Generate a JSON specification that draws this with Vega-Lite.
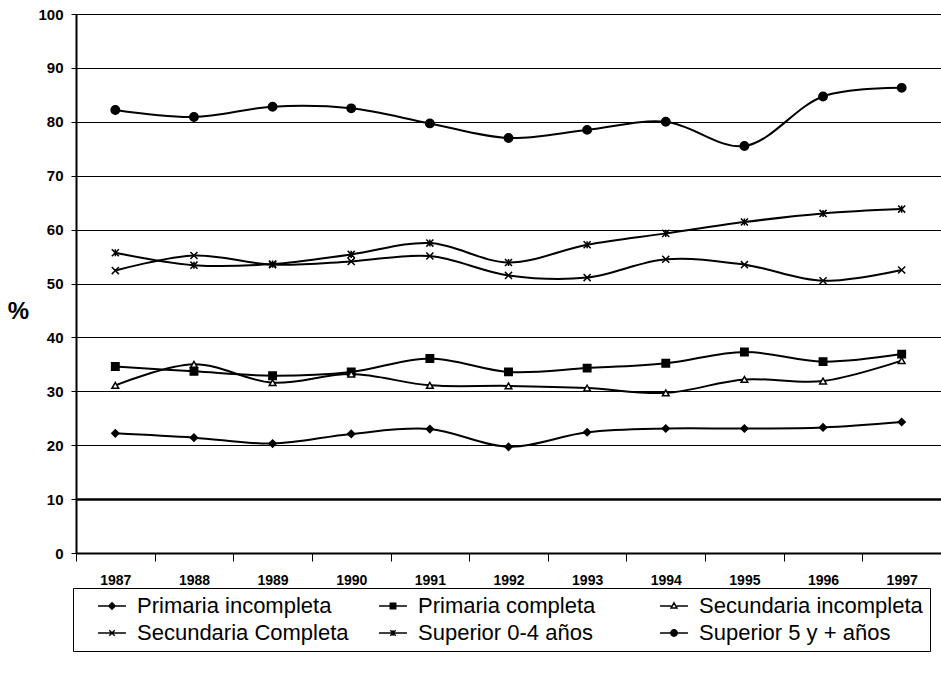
{
  "$schema": "https://vega.github.io/schema/vega-lite/v6.json",
  "autosize": {"type": "none"},
  "width": 865,
  "height": 539,
  "padding": {"left": 76, "top": 14, "right": 0, "bottom": 127},
  "background": "white",
  "config": {
    "view": {"stroke": null},
    "font": "Liberation Sans"
  },
  "data": {
    "values": [
      {"year": "1987", "serie": "Primaria incompleta", "value": 22.2},
      {"year": "1988", "serie": "Primaria incompleta", "value": 21.4},
      {"year": "1989", "serie": "Primaria incompleta", "value": 20.3},
      {"year": "1990", "serie": "Primaria incompleta", "value": 22.1},
      {"year": "1991", "serie": "Primaria incompleta", "value": 23.0},
      {"year": "1992", "serie": "Primaria incompleta", "value": 19.7},
      {"year": "1993", "serie": "Primaria incompleta", "value": 22.4},
      {"year": "1994", "serie": "Primaria incompleta", "value": 23.1},
      {"year": "1995", "serie": "Primaria incompleta", "value": 23.1},
      {"year": "1996", "serie": "Primaria incompleta", "value": 23.3},
      {"year": "1997", "serie": "Primaria incompleta", "value": 24.3},
      {"year": "1987", "serie": "Primaria completa", "value": 34.6},
      {"year": "1988", "serie": "Primaria completa", "value": 33.7},
      {"year": "1989", "serie": "Primaria completa", "value": 32.9},
      {"year": "1990", "serie": "Primaria completa", "value": 33.6},
      {"year": "1991", "serie": "Primaria completa", "value": 36.1},
      {"year": "1992", "serie": "Primaria completa", "value": 33.6},
      {"year": "1993", "serie": "Primaria completa", "value": 34.3},
      {"year": "1994", "serie": "Primaria completa", "value": 35.2},
      {"year": "1995", "serie": "Primaria completa", "value": 37.3},
      {"year": "1996", "serie": "Primaria completa", "value": 35.5},
      {"year": "1997", "serie": "Primaria completa", "value": 36.9},
      {"year": "1987", "serie": "Secundaria incompleta", "value": 31.1},
      {"year": "1988", "serie": "Secundaria incompleta", "value": 35.0},
      {"year": "1989", "serie": "Secundaria incompleta", "value": 31.6},
      {"year": "1990", "serie": "Secundaria incompleta", "value": 33.2},
      {"year": "1991", "serie": "Secundaria incompleta", "value": 31.1},
      {"year": "1992", "serie": "Secundaria incompleta", "value": 31.0},
      {"year": "1993", "serie": "Secundaria incompleta", "value": 30.6},
      {"year": "1994", "serie": "Secundaria incompleta", "value": 29.7},
      {"year": "1995", "serie": "Secundaria incompleta", "value": 32.2},
      {"year": "1996", "serie": "Secundaria incompleta", "value": 31.9},
      {"year": "1997", "serie": "Secundaria incompleta", "value": 35.7},
      {"year": "1987", "serie": "Secundaria Completa", "value": 52.4},
      {"year": "1988", "serie": "Secundaria Completa", "value": 55.2},
      {"year": "1989", "serie": "Secundaria Completa", "value": 53.5},
      {"year": "1990", "serie": "Secundaria Completa", "value": 54.1},
      {"year": "1991", "serie": "Secundaria Completa", "value": 55.1},
      {"year": "1992", "serie": "Secundaria Completa", "value": 51.5},
      {"year": "1993", "serie": "Secundaria Completa", "value": 51.1},
      {"year": "1994", "serie": "Secundaria Completa", "value": 54.5},
      {"year": "1995", "serie": "Secundaria Completa", "value": 53.5},
      {"year": "1996", "serie": "Secundaria Completa", "value": 50.5},
      {"year": "1997", "serie": "Secundaria Completa", "value": 52.5},
      {"year": "1987", "serie": "Superior 0-4 años", "value": 55.7},
      {"year": "1988", "serie": "Superior 0-4 años", "value": 53.4},
      {"year": "1989", "serie": "Superior 0-4 años", "value": 53.6},
      {"year": "1990", "serie": "Superior 0-4 años", "value": 55.4},
      {"year": "1991", "serie": "Superior 0-4 años", "value": 57.5},
      {"year": "1992", "serie": "Superior 0-4 años", "value": 53.9},
      {"year": "1993", "serie": "Superior 0-4 años", "value": 57.2},
      {"year": "1994", "serie": "Superior 0-4 años", "value": 59.3},
      {"year": "1995", "serie": "Superior 0-4 años", "value": 61.4},
      {"year": "1996", "serie": "Superior 0-4 años", "value": 63.0},
      {"year": "1997", "serie": "Superior 0-4 años", "value": 63.8},
      {"year": "1987", "serie": "Superior 5 y + años", "value": 82.2},
      {"year": "1988", "serie": "Superior 5 y + años", "value": 80.9},
      {"year": "1989", "serie": "Superior 5 y + años", "value": 82.8},
      {"year": "1990", "serie": "Superior 5 y + años", "value": 82.5},
      {"year": "1991", "serie": "Superior 5 y + años", "value": 79.7},
      {"year": "1992", "serie": "Superior 5 y + años", "value": 77.0},
      {"year": "1993", "serie": "Superior 5 y + años", "value": 78.5},
      {"year": "1994", "serie": "Superior 5 y + años", "value": 80.0},
      {"year": "1995", "serie": "Superior 5 y + años", "value": 75.5},
      {"year": "1996", "serie": "Superior 5 y + años", "value": 84.7},
      {"year": "1997", "serie": "Superior 5 y + años", "value": 86.3}
    ]
  },
  "encoding": {
    "x": {
      "field": "year",
      "type": "ordinal",
      "scale": {"type": "band", "paddingInner": 0, "paddingOuter": 0},
      "axis": {
        "title": null,
        "labelAngle": 0,
        "labelFont": "Liberation Sans",
        "labelFontSize": 14,
        "labelFontWeight": "bold",
        "labelColor": "black",
        "labelPadding": 12,
        "tickBand": "extent",
        "tickSize": 8,
        "tickColor": "black",
        "tickWidth": 1,
        "domainColor": "black",
        "domainWidth": 2,
        "grid": false
      }
    },
    "y": {
      "field": "value",
      "type": "quantitative",
      "scale": {"domain": [0, 100], "nice": false},
      "axis": {
        "title": "%",
        "titleAngle": 0,
        "titleFont": "Liberation Sans",
        "titleFontSize": 24,
        "titleFontWeight": "bold",
        "titleColor": "black",
        "titleX": -58,
        "titleY": 297,
        "titleAlign": "center",
        "titleBaseline": "middle",
        "values": [0, 10, 20, 30, 40, 50, 60, 70, 80, 90, 100],
        "labelFont": "Liberation Sans",
        "labelFontSize": 15,
        "labelFontWeight": "bold",
        "labelColor": "black",
        "labelPadding": 8,
        "tickSize": 5,
        "tickColor": "black",
        "domainColor": "black",
        "domainWidth": 2,
        "grid": true,
        "gridColor": "black",
        "gridOpacity": 1,
        "gridWidth": {"condition": {"test": "datum.value === 10", "value": 2.5}, "value": 1.2}
      }
    }
  },
  "layer": [
    {
      "mark": {"type": "line", "interpolate": "catmull-rom", "strokeWidth": 2},
      "encoding": {
        "color": {
          "field": "serie",
          "type": "nominal",
          "scale": {
            "domain": ["Primaria incompleta", "Primaria completa", "Secundaria incompleta", "Secundaria Completa", "Superior 0-4 años", "Superior 5 y + años"],
            "range": ["black", "black", "black", "black", "black", "black"]
          },
          "legend": {
            "title": null,
            "orient": "none",
            "legendX": -3,
            "legendY": 574,
            "direction": "horizontal",
            "columns": 3,
            "gridAlign": "all",
            "padding": 7,
            "strokeColor": "black",
            "fillColor": "white",
            "labelFont": "Liberation Sans",
            "labelFontSize": 22,
            "labelColor": "black",
            "labelLimit": 400,
            "symbolSize": 324,
            "symbolStrokeWidth": 1.5,
            "symbolOffset": 21,
            "labelOffset": 14,
            "columnPadding": 0,
            "rowPadding": 5,
            "encoding": {
              "symbols": {
                "shape": {"value": {"expr": "datum.value === 'Primaria incompleta' ? 'M-1.55,0L1.55,0M0,-0.35L0.35,0L0,0.35L-0.35,0Z' : datum.value === 'Primaria completa' ? 'M-1.55,0L1.55,0M-0.3,-0.3L0.3,-0.3L0.3,0.3L-0.3,0.3Z' : datum.value === 'Secundaria incompleta' ? 'M-1.55,0L-0.3,0M0.3,0L1.55,0M0,-0.35L0.32,0.22L-0.32,0.22Z' : datum.value === 'Secundaria Completa' ? 'M-1.55,0L1.55,0M-0.3,-0.3L0.3,0.3M-0.3,0.3L0.3,-0.3' : datum.value === 'Superior 0-4 años' ? 'M-1.55,0L1.55,0M-0.3,-0.3L0.3,0.3M-0.3,0.3L0.3,-0.3M0,-0.3L0,0.3' : 'M-1.55,0L1.55,0M0.35,0A0.35,0.35,0,1,1,-0.35,0A0.35,0.35,0,1,1,0.35,0Z'"}},
                "fill": {"value": {"expr": "datum.value === 'Secundaria incompleta' ? 'white' : 'black'"}},
                "stroke": {"value": "black"},
                "strokeWidth": {"value": 1.5},
                "opacity": {"value": 1}
              }
            }
          }
        }
      }
    },
    {
      "mark": {"type": "point", "filled": true, "stroke": "black", "strokeWidth": 1.5, "opacity": 1},
      "encoding": {
        "shape": {
          "condition": [
            {"test": "datum.serie === 'Primaria incompleta'", "value": "diamond"},
            {"test": "datum.serie === 'Primaria completa'", "value": "square"},
            {"test": "datum.serie === 'Secundaria incompleta'", "value": "triangle-up"},
            {"test": "datum.serie === 'Secundaria Completa'", "value": "M-1,-1L1,1M-1,1L1,-1"},
            {"test": "datum.serie === 'Superior 0-4 años'", "value": "M-1,-1L1,1M-1,1L1,-1M0,-1L0,1"}
          ],
          "value": "circle"
        },
        "fill": {
          "condition": {"test": "datum.serie === 'Secundaria incompleta'", "value": "white"},
          "value": "black"
        },
        "size": {
          "condition": [
            {"test": "datum.serie === 'Superior 5 y + años'", "value": 70},
            {"test": "datum.serie === 'Primaria completa'", "value": 55},
            {"test": "datum.serie === 'Secundaria incompleta'", "value": 45},
            {"test": "datum.serie === 'Secundaria Completa' || datum.serie === 'Superior 0-4 años'", "value": 50}
          ],
          "value": 50
        }
      }
    }
  ]
}
